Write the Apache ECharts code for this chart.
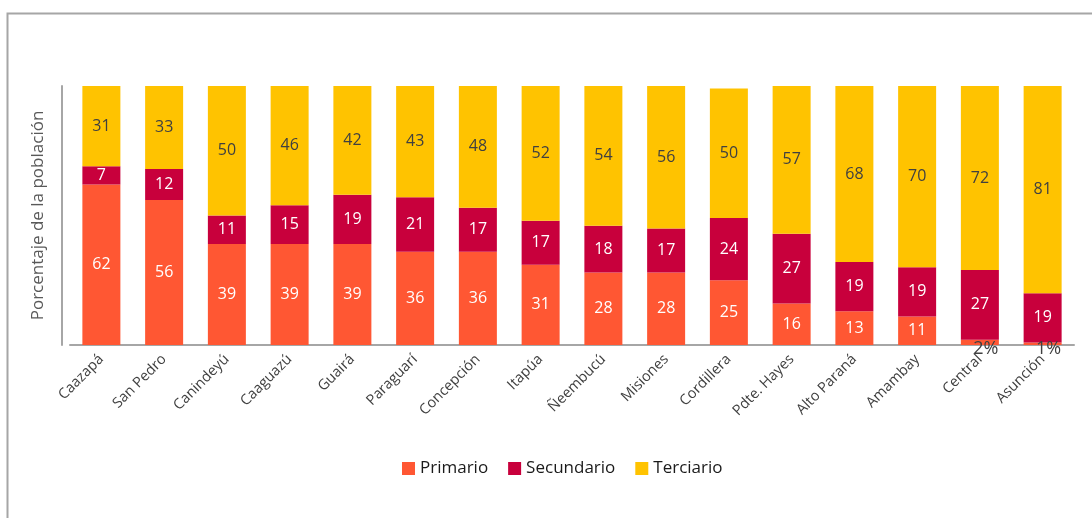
<!DOCTYPE html>
<html>
<head>
<meta charset="utf-8">
<script src="https://cdn.jsdelivr.net/npm/echarts@6/dist/echarts.min.js"></script>
<style>
    html, body { margin: 0; padding: 0; background: #fff; }
    #chart { width: 1092px; height: 518px; }
</style>
</head>
<body>
<div id="chart"></div>
<script>
var departamentos = ['Caazapá', 'San Pedro', 'Canindeyú', 'Caaguazú', 'Guairá', 'Paraguarí', 'Concepción',
    'Itapúa', 'Ñeembucú', 'Misiones', 'Cordillera', 'Pdte. Hayes', 'Alto Paraná', 'Amambay', 'Central', 'Asunción'];
var primario = [62, 56, 39, 39, 39, 36, 36, 31, 28, 28, 25, 16, 13, 11, 2, 1];
var secundario = [7, 12, 11, 15, 19, 21, 17, 17, 18, 17, 24, 27, 19, 19, 27, 19];
var terciario = [31, 33, 50, 46, 42, 43, 48, 52, 54, 56, 50, 57, 68, 70, 72, 81];

function renderChart(dom) {
    if (!dom) return;
    var myChart = echarts.init(dom);
    var font = '"Open Sans", "Noto Sans", sans-serif';

    // los valores chicos van debajo de la barra con %
    var primarioData = primario.map(function (v) {
        if (v > 5) return v;
        return {
            value: v,
            label: {
                position: 'bottom',
                offset: [6, -10],
                color: '#404040',
                fontSize: 18,
                formatter: '{c}%'
            }
        };
    });

    var barLabel = {
        show: true,
        position: 'inside',
        color: '#fff',
        fontSize: 16,
        fontFamily: font
    };

    var option = {
        backgroundColor: '#fff',
        textStyle: { fontFamily: font },
        graphic: [{
            type: 'rect',
            shape: { x: 7.5, y: 13.5, width: 1200, height: 600 },
            style: { fill: 'none', stroke: '#a6a6a6', lineWidth: 2 },
            silent: true
        }],
        legend: {
            bottom: 36,
            left: 397,
            itemWidth: 13,
            itemHeight: 13,
            itemGap: 20,
            icon: 'rect',
            textStyle: { color: '#1a1a1a', fontSize: 17, fontFamily: font },
            data: ['Primario', 'Secundario', 'Terciario']
        },
        grid: {
            left: 70,
            right: 18,
            top: 86,
            bottom: 173
        },
        xAxis: {
            type: 'category',
            data: departamentos,
            axisLine: { lineStyle: { color: '#a6a6a6', width: 2 } },
            axisTick: { show: false },
            axisLabel: {
                rotate: 45,
                interval: 0,
                color: '#404040',
                fontSize: 14.5,
                fontFamily: font,
                margin: 12
            }
        },
        yAxis: {
            type: 'value',
            min: 0,
            max: 100,
            offset: 8,
            name: 'Porcentaje de la población',
            nameLocation: 'middle',
            nameGap: 15,
            nameTextStyle: { color: '#595959', fontSize: 17, fontFamily: font },
            axisLine: { show: true, lineStyle: { color: '#a6a6a6', width: 2 } },
            axisTick: { show: false },
            axisLabel: { show: false },
            splitLine: { show: false }
        },
        series: [
            {
                name: 'Primario',
                type: 'bar',
                stack: 'total',
                barWidth: 38,
                itemStyle: { color: '#ff5733' },
                label: barLabel,
                data: primarioData
            },
            {
                name: 'Secundario',
                type: 'bar',
                stack: 'total',
                itemStyle: { color: '#c8003c' },
                label: barLabel,
                data: secundario
            },
            {
                name: 'Terciario',
                type: 'bar',
                stack: 'total',
                itemStyle: { color: '#ffc300' },
                label: Object.assign({}, barLabel, { color: '#404040' }),
                data: terciario
            }
        ]
    };

    option && myChart.setOption(option);
}

renderChart(document.getElementById('chart'));
</script>
</body>
</html>
